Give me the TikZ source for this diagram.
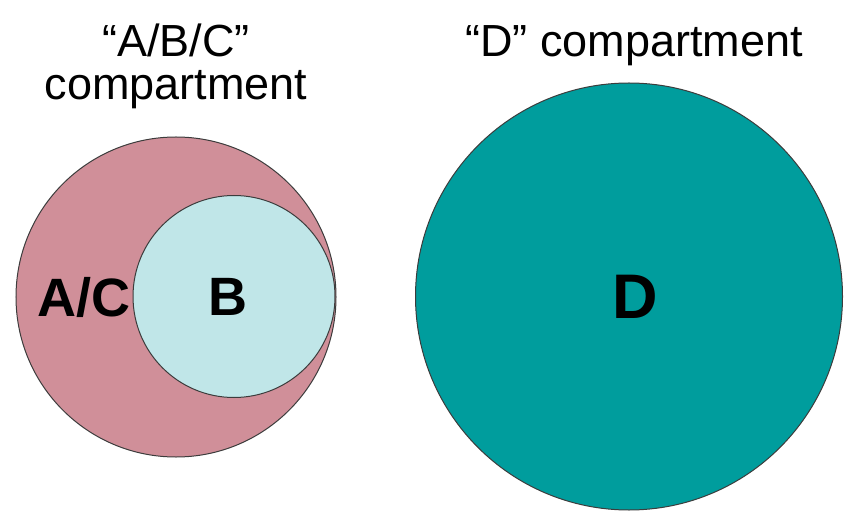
\documentclass[tikz,border=0pt]{standalone}
\usepackage{fontspec}
\setmainfont{Liberation Sans}
\definecolor{acpink}{RGB}{208,143,153}
\definecolor{bcyan}{RGB}{192,230,232}
\definecolor{dteal}{RGB}{0,157,157}
\definecolor{rim}{RGB}{60,60,60}
\begin{document}
\begin{tikzpicture}[x=1bp,y=-1bp,
  compart/.style={circle,draw=rim,line width=1bp,inner sep=0pt},
  title/.style={font=\fontsize{45bp}{43bp}\selectfont,inner sep=0pt,anchor=base,align=center},
  tag/.style={font=\fontsize{54bp}{54bp}\selectfont\bfseries,inner sep=0pt}]
  \useasboundingbox (0,0) rectangle (845,512);
  % compartments
  \node[compart,fill=acpink,minimum size=320bp] (abc) at (176,297) {};
  \node[compart,fill=bcyan,minimum size=202bp] (b) at (234,296.5) {};
  \node[compart,fill=dteal,minimum size=427bp] (d) at (629,296.5) {};
  % titles
  \node[title] (t1) at (176,57) {“A/B/C”};
  \node[title] (t2) at (176,100) {compartment};
  \node[title] (t3) at (634,57) {“D” compartment};
  % labels
  \node[tag] (lac) at (84,297) {A/C};
  \node[tag] (lb) at (228,297) {B};
  \node[tag,font=\fontsize{63bp}{63bp}\selectfont\bfseries] (ld) at (635,297) {D};
\end{tikzpicture}
\end{document}
